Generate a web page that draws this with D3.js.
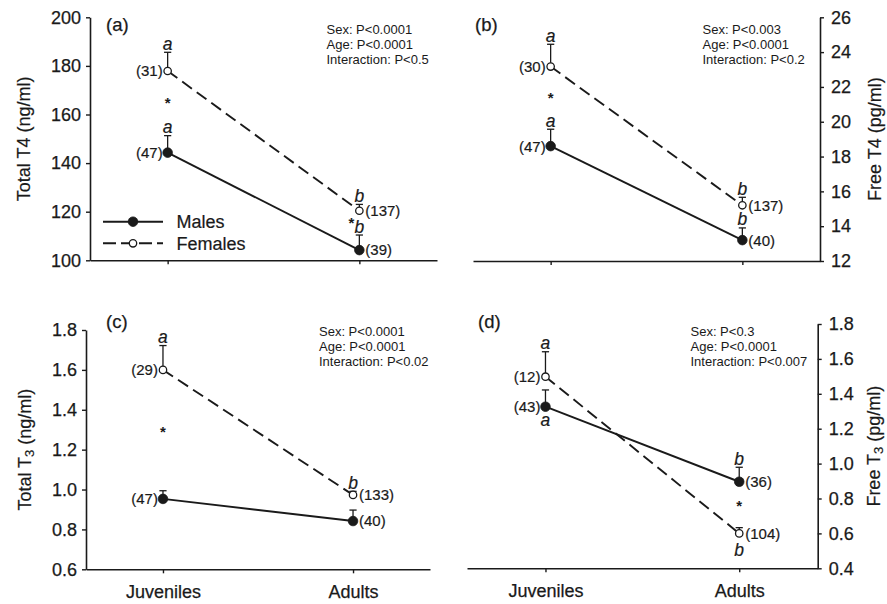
<!DOCTYPE html>
<html>
<head>
<meta charset="utf-8">
<script src="https://cdn.jsdelivr.net/npm/d3@7"></script>
<style>
  body { margin: 0; background: #ffffff; }
  svg { display: block; }
</style>
</head>
<body>
<svg id="chart" width="887" height="604"></svg>
<script>
// ---- data ----
const groups = ["Juveniles", "Adults"];

// (a) Total T4, ng/ml
const totalT4Males = [144.3, 104.2];
const totalT4MalesSE = [7.0, 6.2];
const totalT4Females = [177.9, 120.4];
const totalT4FemalesSE = [7.7, 2.6];
const totalT4MalesN = [47, 39];
const totalT4FemalesN = [31, 137];
const totalT4Ticks = [100, 120, 140, 160, 180, 200];
const totalT4Stats = ["Sex: P<0.0001", "Age: P<0.0001", "Interaction: P<0.5"];

// (b) Free T4, pg/ml
const freeT4Males = [18.6, 13.2];
const freeT4MalesSE = [0.97, 0.7];
const freeT4Females = [23.17, 15.2];
const freeT4FemalesSE = [1.28, 0.46];
const freeT4MalesN = [47, 40];
const freeT4FemalesN = [30, 137];
const freeT4Ticks = [12, 14, 16, 18, 20, 22, 24, 26];
const freeT4Stats = ["Sex: P<0.003", "Age: P<0.0001", "Interaction: P<0.2"];

// (c) Total T3, ng/ml
const totalT3Males = [0.953, 0.842];
const totalT3MalesSE = [0.041, 0.055];
const totalT3Females = [1.6, 0.973];
const totalT3FemalesSE = [0.122, 0.018];
const totalT3MalesN = [47, 40];
const totalT3FemalesN = [29, 133];
const totalT3Ticks = [0.6, 0.8, 1.0, 1.2, 1.4, 1.6, 1.8];
const totalT3Stats = ["Sex: P<0.0001", "Age: P<0.0001", "Interaction: P<0.02"];

// (d) Free T3, pg/ml
const freeT3Males = [1.326, 0.896];
const freeT3MalesSE = [0.096, 0.083];
const freeT3Females = [1.498, 0.6];
const freeT3FemalesSE = [0.143, 0.033];
const freeT3MalesN = [43, 36];
const freeT3FemalesN = [12, 104];
const freeT3Ticks = [0.4, 0.6, 0.8, 1.0, 1.2, 1.4, 1.6, 1.8];
const freeT3Stats = ["Sex: P<0.3", "Age: P<0.0001", "Interaction: P<0.007"];

// significance letters ("" = none) and significant sex differences (*)
const lettersMalesA = ["a", "b"], lettersFemalesA = ["a", "b"];
const lettersMalesB = ["a", "b"], lettersFemalesB = ["a", "b"];
const lettersMalesC = ["", ""], lettersFemalesC = ["a", "b"];
const lettersMalesD = ["a", "b"], lettersFemalesD = ["a", "b"];
const starsA = [["Juveniles", 165.6], ["Adults", 116.3]];
const starsB = [["Juveniles", 21.5]];
const starsC = [["Juveniles", 1.30]];
const starsD = [["Adults", 0.77]];

// ---- drawing ----
const FONT = '"Liberation Sans", Arial, Helvetica, sans-serif';
const INK = "#1a1a1a";
const svg = d3.select("#chart").style("font-family", FONT);

function drawPanel(p) {
  const g = svg.append("g");

  const x = d3.scalePoint().domain(groups).range([p.x0, p.x1]).padding(0.405);
  const y = d3.scaleLinear().domain(p.domain).range([p.yBot, p.yTop]);

  // y axis (left or right)
  const yAxis = (p.side === "left" ? d3.axisLeft(y) : d3.axisRight(y))
    .tickValues(p.ticks)
    .tickFormat(p.fmt)
    .tickSize(4)
    .tickSizeOuter(0)
    .tickPadding(p.side === "left" ? 5 : 7);
  const yg = g.append("g")
    .attr("transform", `translate(${p.side === "left" ? p.x0 : p.x1},0)`)
    .call(yAxis);

  // x axis, labels only on the bottom row
  const xAxis = d3.axisBottom(x)
    .tickSize(4)
    .tickSizeOuter(0)
    .tickPadding(12)
    .tickFormat(p.showX ? (d) => d : () => "");
  const xg = g.append("g")
    .attr("transform", `translate(0,${p.yBot})`)
    .call(xAxis);

  for (const ag of [yg, xg]) {
    ag.select(".domain").attr("stroke", INK).attr("stroke-width", 1.6);
    ag.selectAll(".tick line").attr("stroke", INK).attr("stroke-width", 1.4);
    ag.selectAll("text")
      .attr("fill", INK)
      .attr("font-size", 18)
      .attr("font-family", FONT)
      .attr("stroke", INK)
      .attr("stroke-width", 0.25);
  }

  const series = [
    { mean: p.females, se: p.femalesSE, n: p.femalesN, letters: p.femalesLetters, below: p.femalesBelow, filled: false, dash: "12,6" },
    { mean: p.males, se: p.malesSE, n: p.malesN, letters: p.malesLetters, below: p.malesBelow, filled: true, dash: null },
  ];

  const line = d3.line()
    .x((_d, i) => x(groups[i]))
    .y((d) => y(d));

  // connecting lines
  for (const s of series) {
    g.append("path")
      .datum(s.mean)
      .attr("d", line)
      .attr("fill", "none")
      .attr("stroke", INK)
      .attr("stroke-width", 1.9)
      .attr("stroke-dasharray", s.dash);
  }

  // error bars (upper SE only)
  for (const s of series) {
    s.mean.forEach((m, i) => {
      const cx = x(groups[i]);
      const top = y(m + s.se[i]);
      g.append("line")
        .attr("x1", cx).attr("x2", cx)
        .attr("y1", y(m)).attr("y2", top)
        .attr("stroke", INK).attr("stroke-width", 1.3);
      g.append("line")
        .attr("x1", cx - 3.6).attr("x2", cx + 3.6)
        .attr("y1", top).attr("y2", top)
        .attr("stroke", INK).attr("stroke-width", 1.3);
    });
  }

  // markers
  for (const s of series) {
    g.append("g")
      .selectAll("circle")
      .data(s.mean)
      .join("circle")
      .attr("cx", (_d, i) => x(groups[i]))
      .attr("cy", (d) => y(d))
      .attr("r", s.filled ? 4.8 : 3.7)
      .attr("fill", s.filled ? INK : "#ffffff")
      .attr("stroke", INK)
      .attr("stroke-width", s.filled ? 0.8 : 1.3);
  }

  // sample sizes: juveniles to the left, adults to the right
  for (const s of series) {
    s.mean.forEach((m, i) => {
      const left = i === 0;
      g.append("text")
        .attr("x", x(groups[i]) + (left ? -5 : 6))
        .attr("y", y(m))
        .attr("dy", "0.36em")
        .attr("text-anchor", left ? "end" : "start")
        .attr("fill", INK)
        .attr("stroke", INK)
        .attr("stroke-width", 0.2)
        .attr("font-size", 15)
        .text(`(${s.n[i]})`);
    });
  }

  // letters (italic), above the SE bar or below the point
  for (const s of series) {
    s.letters.forEach((L, i) => {
      if (!L) return;
      const cx = x(groups[i]);
      const asc = L === "b" ? 12.4 : 8.8;
      const below = s.below && s.below[i];
      const by = below ? y(s.mean[i]) + 10 + asc : y(s.mean[i] + s.se[i]) - 2.5;
      g.append("text")
        .attr("x", cx)
        .attr("y", by)
        .attr("text-anchor", "middle")
        .attr("font-style", "italic")
        .attr("fill", INK)
        .attr("stroke", INK)
        .attr("stroke-width", 0.2)
        .attr("font-size", 17.5)
        .text(L);
    });
  }

  // sex-difference stars
  p.stars.forEach(([grp, v], k) => {
    g.append("text")
      .attr("x", x(grp) + (p.starDx ? p.starDx[k] : 0))
      .attr("y", y(v) + 7.5)
      .attr("text-anchor", "middle")
      .attr("fill", INK)
      .attr("font-weight", "bold")
      .attr("font-size", 15)
      .text("*");
  });

  // panel letter
  g.append("text")
    .attr("x", p.tagX).attr("y", p.tagY)
    .attr("fill", INK)
    .attr("stroke", INK)
    .attr("stroke-width", 0.25)
    .attr("font-size", 18.5)
    .text(p.tag);

  // statistics block
  g.append("g")
    .selectAll("text")
    .data(p.stats)
    .join("text")
    .attr("x", p.statX)
    .attr("y", (_d, i) => p.statY + i * 15)
    .attr("fill", INK)
    .attr("font-size", 13)
    .text((d) => d);

  // y axis title (rotated), with optional subscript
  const t = g.append("text")
    .attr("transform", `translate(${p.titleX},${(p.yTop + p.yBot) / 2}) rotate(-90)`)
    .attr("text-anchor", "middle")
    .attr("fill", INK)
    .attr("stroke", INK)
    .attr("stroke-width", 0.2)
    .attr("font-size", 18);
  t.append("tspan").text(p.title[0]);
  if (p.title[1]) {
    t.append("tspan").attr("font-size", 13).attr("dy", 3).text(p.title[1]);
    t.append("tspan").attr("dy", -3).text(p.title[2]);
  } else {
    t.append("tspan").text(p.title[2]);
  }
}

const fmtInt = d3.format("d");
const fmt1 = d3.format(".1f");

drawPanel({
  x0: 90, x1: 437, yTop: 17.3, yBot: 260.3, side: "left", showX: false,
  domain: [100, 200], ticks: totalT4Ticks, fmt: fmtInt,
  males: totalT4Males, malesSE: totalT4MalesSE, malesN: totalT4MalesN,
  females: totalT4Females, femalesSE: totalT4FemalesSE, femalesN: totalT4FemalesN,
  malesLetters: lettersMalesA, femalesLetters: lettersFemalesA,
  stars: starsA, starDx: [0, -8],
  tag: "(a)", tagX: 106, tagY: 31,
  stats: totalT4Stats, statX: 326.5, statY: 33.5,
  title: ["Total T4 ", "", "(ng/ml)"], titleX: 30,
});

drawPanel({
  x0: 473, x1: 820, yTop: 17.3, yBot: 261, side: "right", showX: false,
  domain: [12, 26], ticks: freeT4Ticks, fmt: fmtInt,
  males: freeT4Males, malesSE: freeT4MalesSE, malesN: freeT4MalesN,
  females: freeT4Females, femalesSE: freeT4FemalesSE, femalesN: freeT4FemalesN,
  malesLetters: lettersMalesB, femalesLetters: lettersFemalesB,
  stars: starsB,
  tag: "(b)", tagX: 475, tagY: 31,
  stats: freeT4Stats, statX: 702.5, statY: 34,
  title: ["Free T4 ", "", "(pg/ml)"], titleX: 881,
});

drawPanel({
  x0: 86, x1: 430, yTop: 330, yBot: 569.3, side: "left", showX: true,
  domain: [0.6, 1.8], ticks: totalT3Ticks, fmt: fmt1,
  males: totalT3Males, malesSE: totalT3MalesSE, malesN: totalT3MalesN,
  females: totalT3Females, femalesSE: totalT3FemalesSE, femalesN: totalT3FemalesN,
  malesLetters: lettersMalesC, femalesLetters: lettersFemalesC,
  stars: starsC,
  tag: "(c)", tagX: 106, tagY: 328,
  stats: totalT3Stats, statX: 319, statY: 336,
  title: ["Total T", "3", " (ng/ml)"], titleX: 31,
});

drawPanel({
  x0: 467, x1: 817.7, yTop: 324, yBot: 568.3, side: "right", showX: true,
  domain: [0.4, 1.8], ticks: freeT3Ticks, fmt: fmt1,
  males: freeT3Males, malesSE: freeT3MalesSE, malesN: freeT3MalesN,
  females: freeT3Females, femalesSE: freeT3FemalesSE, femalesN: freeT3FemalesN,
  malesLetters: lettersMalesD, femalesLetters: lettersFemalesD,
  malesBelow: [true, false], femalesBelow: [false, true],
  stars: starsD,
  tag: "(d)", tagX: 478, tagY: 328,
  stats: freeT3Stats, statX: 690.5, statY: 336,
  title: ["Free T", "3", " (pg/ml)"], titleX: 880,
});

// legend (panel a)
const legend = svg.append("g");
const legendRows = [
  { label: "Males", filled: true, dash: null, y: 221.7 },
  { label: "Females", filled: false, dash: "13,5", y: 243.3 },
];
legendRows.forEach((r) => {
  legend.append("line")
    .attr("x1", 103).attr("x2", 163)
    .attr("y1", r.y).attr("y2", r.y)
    .attr("stroke", INK).attr("stroke-width", 1.9)
    .attr("stroke-dasharray", r.dash);
  legend.append("circle")
    .attr("cx", 133).attr("cy", r.y)
    .attr("r", r.filled ? 4.8 : 3.7)
    .attr("fill", r.filled ? INK : "#ffffff")
    .attr("stroke", INK)
    .attr("stroke-width", r.filled ? 0.8 : 1.3);
  legend.append("text")
    .attr("x", 176.5).attr("y", r.y + 6.5)
    .attr("fill", INK)
    .attr("stroke", INK)
    .attr("stroke-width", 0.2)
    .attr("font-size", 18)
    .text(r.label);
});
</script>
</body>
</html>
